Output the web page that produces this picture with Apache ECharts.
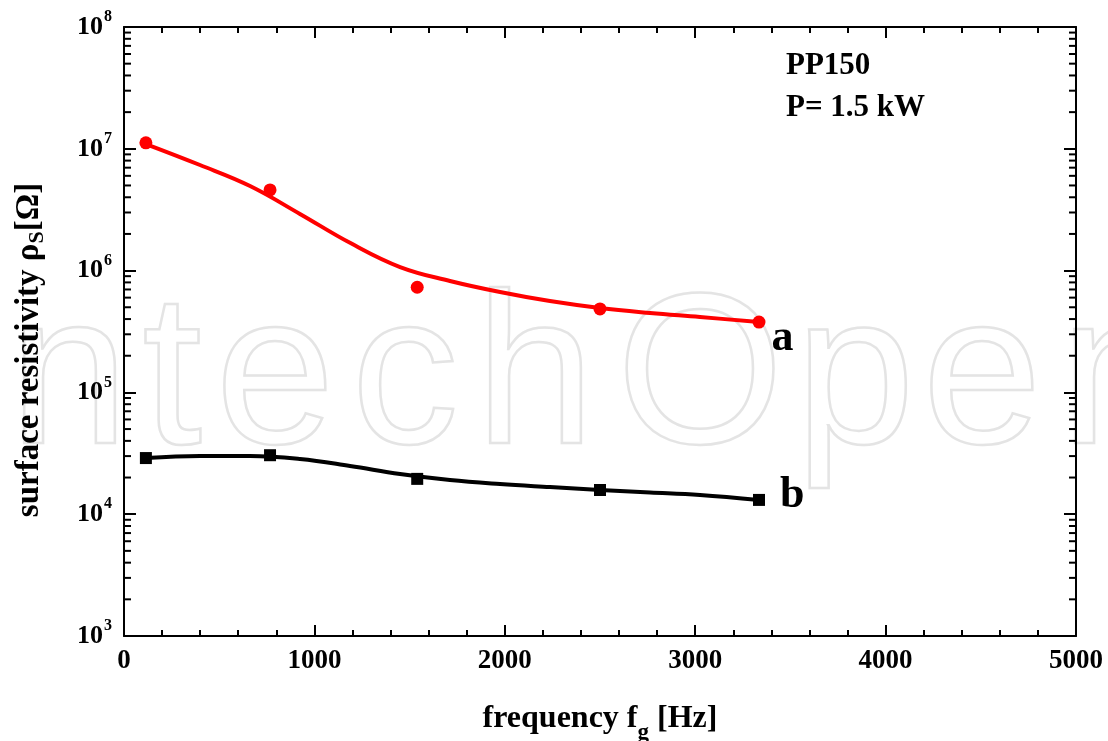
<!DOCTYPE html>
<html>
<head>
<meta charset="utf-8">
<script src="https://cdn.jsdelivr.net/npm/echarts@6/dist/echarts.min.js"></script>
<style>
html,body{margin:0;padding:0;background:#fff;}
#chart{width:1108px;height:741px;}
</style>
</head>
<body>
<div id="chart"></div>
<script>
// ---- data ----
const measX = [115, 767, 1540, 2500, 3335];
const seriesA = [1.12e7, 4.6e6, 7.3e5, 4.85e5, 3.78e5];
const seriesB = [2.89e4, 3.05e4, 1.95e4, 1.58e4, 1.31e4];
const fitX = [115, 399, 662, 924, 1187, 1450, 1712, 1975, 2237, 2500, 2763, 3025, 3335];
const fitA = [1.094e7, 7.36e6, 4.95e6, 2.92e6, 1.69e6, 1.07e6, 8.22e5, 6.67e5, 5.62e5, 4.93e5, 4.49e5, 4.16e5, 3.78e5];
const fitB = [2.89e4, 3.01e4, 3.01e4, 2.84e4, 2.49e4, 2.14e4, 1.91e4, 1.77e4, 1.67e4, 1.58e4, 1.51e4, 1.44e4, 1.31e4];
const xTicks = ['0', '1000', '2000', '3000', '4000', '5000'];
const yExponents = ['3', '4', '5', '6', '7', '8'];
const yDecades = [1e3, 1e4, 1e5, 1e6, 1e7];
const minorMultipliers = [2, 3, 4, 5, 6, 7, 8, 9];
const seriesNames = ['a', 'b'];
const watermarkLetters = ['n', 't', 'e', 'c', 'h', 'O', 'p', 'e', 'n'];

const FONT = '"Liberation Serif", "Times New Roman", serif';

const minorTickVals = [];
yDecades.forEach(d => minorMultipliers.forEach(m => minorTickVals.push([0, d * m])));

function pts(xs, ys, lastLabel, lblOpts) {
  return xs.map((x, i) => {
    const item = { value: [x, ys[i]] };
    if (i === xs.length - 1) {
      item.label = Object.assign({
        show: true, formatter: lastLabel, position: 'right',
        fontFamily: FONT, fontWeight: 'bold', fontSize: 44, color: '#000', opacity: 1
      }, lblOpts);
    }
    return item;
  });
}

const chart = echarts.init(document.getElementById('chart'), null, { renderer: 'canvas' });

const axisLineStyle = { color: '#000', width: 2 };

// watermark letter centres (decoration, not data)
const wmCenters = [69, 172, 275, 405, 535, 700, 855, 982, 1120];
const watermark = watermarkLetters.map((ch, i) => ({
  type: 'text', z: -10, silent: true, x: wmCenters[i], y: 491,
  style: {
    text: ch, font: '215px "Liberation Sans", Arial, sans-serif',
    fill: 'rgba(255,255,255,0)', stroke: '#e4e4e4', lineWidth: 2.5,
    align: 'center', verticalAlign: 'bottom'
  }
}));

const option = {
  animation: false,
  backgroundColor: '#fff',
  grid: { left: 124, right: 32, top: 27, bottom: 105 },
  xAxis: [{
    type: 'value', min: 0, max: 5000, interval: 1000,
    axisLine: { show: true, onZero: false, lineStyle: axisLineStyle },
    axisTick: { show: true, inside: true, length: 11, lineStyle: { color: '#000', width: 2 } },
    minorTick: { show: true, splitNumber: 5, length: 6, lineStyle: { color: '#000', width: 2 } },
    splitLine: { show: false },
    axisLabel: {
      margin: 12, fontFamily: FONT, fontWeight: 'bold', fontSize: 27, color: '#000',
      formatter: (v) => xTicks[Math.round(v / 1000)]
    }
  }, {
    type: 'value', min: 0, max: 5000, interval: 1000, position: 'top',
    axisLine: { show: true, onZero: false, lineStyle: axisLineStyle },
    axisTick: { show: true, inside: true, length: 11, lineStyle: { color: '#000', width: 2 } },
    minorTick: { show: true, splitNumber: 5, length: 6, lineStyle: { color: '#000', width: 2 } },
    splitLine: { show: false },
    axisLabel: { show: false }
  }],
  yAxis: [{
    type: 'log', logBase: 10, min: 1e3, max: 1e8,
    axisLine: { show: true, onZero: false, lineStyle: axisLineStyle },
    axisTick: { show: true, inside: true, length: 12, lineStyle: { color: '#000', width: 2 } },
    splitLine: { show: false },
    axisLabel: {
      margin: 12, color: '#000',
      formatter: (v) => {
        const e = Math.round(Math.log10(v)) - 3;
        return '{b|10}{s|' + yExponents[e] + '}';
      },
      rich: {
        b: { fontFamily: FONT, fontWeight: 'bold', fontSize: 26, color: '#000' },
        s: { fontFamily: FONT, fontWeight: 'bold', fontSize: 16, color: '#000', verticalAlign: 'bottom', padding: [0, 0, 20, 1] }
      }
    }
  }, {
    type: 'log', logBase: 10, min: 1e3, max: 1e8, position: 'right',
    axisLine: { show: true, onZero: false, lineStyle: axisLineStyle },
    axisTick: { show: true, inside: true, length: 12, lineStyle: { color: '#000', width: 2 } },
    splitLine: { show: false },
    axisLabel: { show: false }
  }],
  graphic: watermark.concat([
    {
      type: 'text', x: 786, y: 66,
      style: { text: 'PP150', font: 'bold 31px ' + FONT, fill: '#000', verticalAlign: 'middle' }
    },
    {
      type: 'text', x: 786, y: 108,
      style: { text: 'P= 1.5 kW', font: 'bold 31px ' + FONT, fill: '#000', verticalAlign: 'middle' }
    },
    {
      type: 'text', x: 600, y: 719,
      style: {
        text: 'frequency f{sub|g} [Hz]', align: 'center', verticalAlign: 'middle',
        font: 'bold 32px ' + FONT, fill: '#000',
        rich: {
          sub: { fontFamily: FONT, fontWeight: 'bold', fontSize: 23, fill: '#000', verticalAlign: 'top', padding: [28, 0, 0, 0] }
        }
      }
    },
    {
      type: 'text', x: 29, y: 350, rotation: Math.PI / 2,
      style: {
        text: 'surface resistivity ρ{sub|S}[Ω]', align: 'center', verticalAlign: 'middle',
        font: 'bold 33px ' + FONT, fill: '#000',
        rich: {
          sub: { fontFamily: FONT, fontWeight: 'bold', fontSize: 22, fill: '#000', verticalAlign: 'top', padding: [16, 0, 0, 0] }
        }
      }
    }
  ]),
  series: [
    {
      name: seriesNames[0] + ' fit', type: 'line', smooth: 0.4, showSymbol: false,
      data: fitX.map((x, i) => [x, fitA[i]]),
      lineStyle: { color: '#ff0000', width: 4 }, z: 3
    },
    {
      name: seriesNames[0], type: 'scatter', symbol: 'circle', symbolSize: 13,
      itemStyle: { color: '#ff0000', opacity: 1 },
      data: pts(measX, seriesA, seriesNames[0], { distance: 6, offset: [0, 17] }), z: 4
    },
    {
      name: seriesNames[1] + ' fit', type: 'line', smooth: 0.4, showSymbol: false,
      data: fitX.map((x, i) => [x, fitB[i]]),
      lineStyle: { color: '#000', width: 4 }, z: 3
    },
    {
      name: seriesNames[1], type: 'scatter', symbol: 'rect', symbolSize: 12,
      itemStyle: { color: '#000', opacity: 1 },
      data: pts(measX, seriesB, seriesNames[1], { distance: 15, offset: [0, -4] }), z: 4
    },
    {
      name: 'minor ticks', type: 'custom', silent: true, clip: false, z: 5,
      data: minorTickVals,
      renderItem: (params, api) => {
        const cs = params.coordSys;
        const y = api.coord([0, api.value(1)])[1];
        const len = 7;
        const st = { stroke: '#000', lineWidth: 2 };
        return {
          type: 'group', children: [
            { type: 'line', shape: { x1: cs.x, y1: y, x2: cs.x + len, y2: y }, style: st },
            { type: 'line', shape: { x1: cs.x + cs.width - len, y1: y, x2: cs.x + cs.width, y2: y }, style: st }
          ]
        };
      }
    }
  ]
};
chart.setOption(option);
</script>
</body>
</html>
